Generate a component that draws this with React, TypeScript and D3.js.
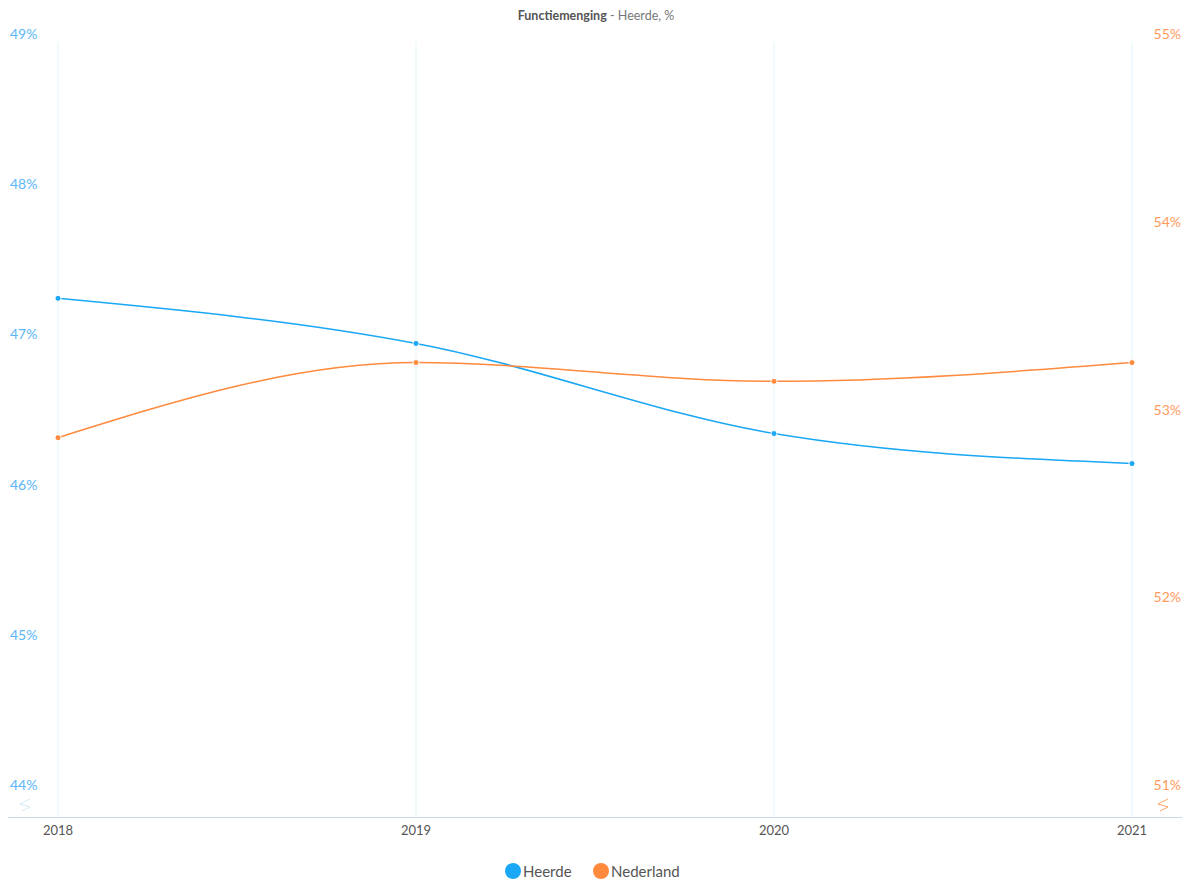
import React from 'react';
import * as d3 from 'd3';

// Functiemenging — Heerde vs Nederland, dual y-axis
const YEARS = ['2018', '2019', '2020', '2021'];
const HEERDE = [47.24, 46.94, 46.34, 46.14];
const NEDERLAND = [52.85, 53.25, 53.15, 53.25];
const LEFT_TICKS = [44, 45, 46, 47, 48, 49];
const RIGHT_TICKS = [51, 52, 53, 54, 55];

const W = 1192;
const H = 888;
const BLUE = '#1aa7f5';
const ORANGE = '#ff8a3d';
const FONT = 'Lato, "Open Sans", sans-serif';

const App: React.FC = () => {
  const x = d3.scalePoint<string>().domain(YEARS).range([58, 1132]);
  const yL = d3.scaleLinear().domain([44, 49]).range([785, 34]);
  const yR = d3.scaleLinear().domain([51, 55]).range([785, 34]);

  const lineL = d3
    .line<number>()
    .x((_, i) => x(YEARS[i]) as number)
    .y((d) => yL(d))
    .curve(d3.curveMonotoneX);
  const lineR = d3
    .line<number>()
    .x((_, i) => x(YEARS[i]) as number)
    .y((d) => yR(d))
    .curve(d3.curveMonotoneX);

  const zig = (cx: number, cy: number) =>
    `M${cx + 5},${cy - 6} L${cx - 5},${cy - 1} L${cx + 5},${cy + 2} L${cx - 3},${cy + 6}`;

  return (
    <svg width={W} height={H} style={{ display: 'block', position: 'absolute', left: 0, top: 0 }}>
      <rect width={W} height={H} fill="#fff" />
      {/* title */}
      <text x={596} y={20} textAnchor="middle" fontFamily={FONT} fontSize={12.5}>
        <tspan fontWeight="bold" fill="#555">Functiemenging</tspan>
        <tspan fill="#777"> - Heerde, %</tspan>
      </text>

      {/* vertical grid */}
      {YEARS.map((yr) => (
        <line key={yr} x1={x(yr)} x2={x(yr)} y1={42} y2={817} stroke="#e3f6fb" strokeWidth={1} />
      ))}

      {/* x axis */}
      <line x1={8} x2={1182} y1={817.5} y2={817.5} stroke="#ccd6eb" strokeWidth={1} />
      {YEARS.map((yr) => (
        <text key={yr} x={x(yr)} y={835} textAnchor="middle" fontFamily={FONT} fontSize={13} fill="#555">
          {yr}
        </text>
      ))}

      {/* left axis */}
      {LEFT_TICKS.map((t) => (
        <text key={t} x={10} y={yL(t) + 5} fontFamily={FONT} fontSize={14} fill="#5cb6f7">
          {t}%
        </text>
      ))}
      <path d={zig(25, 805)} fill="none" stroke="#d5e9f5" strokeWidth={1} />

      {/* right axis */}
      {RIGHT_TICKS.map((t) => (
        <text key={t} x={1181} y={yR(t) + 5} textAnchor="end" fontFamily={FONT} fontSize={14} fill="#ff9a5c">
          {t}%
        </text>
      ))}
      <path d={zig(1163, 805)} fill="none" stroke="#ffa56b" strokeWidth={1} />

      {/* series */}
      <path d={lineL(HEERDE) ?? ''} fill="none" stroke={BLUE} strokeWidth={1.5} />
      <path d={lineR(NEDERLAND) ?? ''} fill="none" stroke={ORANGE} strokeWidth={1.5} />
      {HEERDE.map((v, i) => (
        <circle key={'h' + i} cx={x(YEARS[i])} cy={yL(v)} r={3} fill={BLUE} stroke="#fff" strokeWidth={1} />
      ))}
      {NEDERLAND.map((v, i) => (
        <circle key={'n' + i} cx={x(YEARS[i])} cy={yR(v)} r={3} fill={ORANGE} stroke="#fff" strokeWidth={1} />
      ))}

      {/* legend */}
      <circle cx={513} cy={871} r={8} fill={BLUE} />
      <text x={523} y={876.5} fontFamily={FONT} fontSize={15} fill="#555">Heerde</text>
      <circle cx={601} cy={871} r={8} fill={ORANGE} />
      <text x={611} y={876.5} fontFamily={FONT} fontSize={15} fill="#555">Nederland</text>
    </svg>
  );
};

export default App;
